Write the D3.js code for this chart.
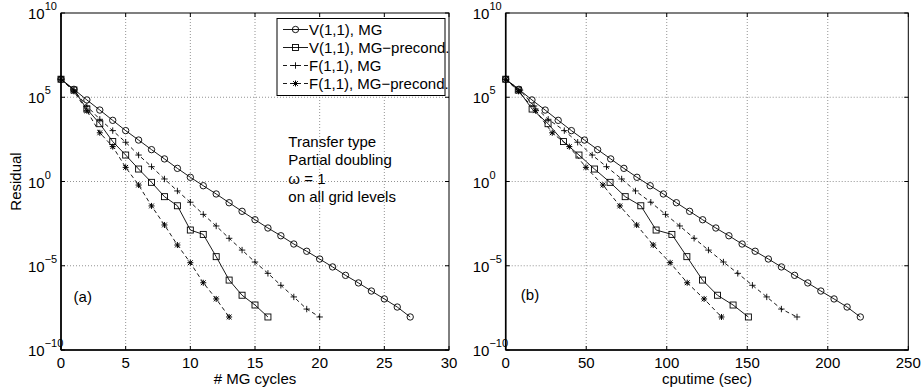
<!DOCTYPE html>
<html>
<head>
<meta charset="utf-8">
<script src="https://cdn.jsdelivr.net/npm/d3@7"></script>
<style>
body { margin: 0; background: #fff; }
text { font-family: "Liberation Sans Narrow", "Liberation Sans", Arial, sans-serif; fill: #000; }
</style>
</head>
<body>
<script>
// iterations and log10(residual)

const itVMG = [0, 1, 2, 3, 4, 5, 6, 7, 8, 9, 10, 11, 12, 13, 14, 15, 16, 17, 18, 19, 20, 21, 22, 23, 24, 25, 26, 27];
const resVMG = [6.07, 5.47, 4.84, 4.24, 3.63, 3.02, 2.46, 1.89, 1.34, 0.78, 0.25, -0.25, -0.74, -1.26, -1.77, -2.27, -2.76, -3.22, -3.71, -4.14, -4.60, -5.07, -5.57, -6.02, -6.50, -6.97, -7.45, -8.04];
const cpuVMG = [0, 8.2, 16.3, 24.5, 32.6, 40.8, 48.9, 57.1, 65.2, 73.4, 81.5, 89.7, 97.9, 106.0, 114.2, 122.3, 130.5, 138.6, 146.8, 154.9, 163.1, 171.2, 179.4, 187.6, 195.7, 203.9, 212.0, 220.2];

const itVPre = [0, 1, 2, 3, 4, 5, 6, 7, 8, 9, 10, 11, 12, 13, 14, 15, 16];
const resVPre = [6.07, 5.43, 4.30, 3.43, 2.37, 1.57, 0.74, -0.05, -0.90, -1.44, -2.88, -3.14, -4.46, -5.85, -6.75, -7.33, -8.04];
const cpuVPre = [0, 7.8, 16.4, 26.3, 35.9, 45.5, 55.1, 64.8, 74.2, 83.9, 93.4, 103.2, 112.5, 122.2, 131.5, 141.2, 150.7];

const itFMG = [0, 1, 2, 3, 4, 5, 6, 7, 8, 9, 10, 11, 12, 13, 14, 15, 16, 17, 18, 19, 20];
const resFMG = [6.07, 5.42, 4.48, 3.69, 3.02, 2.33, 1.57, 0.88, 0.15, -0.56, -1.23, -1.95, -2.64, -3.37, -4.07, -4.78, -5.45, -6.16, -6.85, -7.57, -8.04];
const cpuFMG = [0, 8.9, 17.6, 26.4, 36.4, 44.7, 53.7, 62.6, 72.0, 80.6, 90.1, 99.2, 108.1, 117.0, 125.9, 135.2, 144.1, 153.2, 162.1, 171.2, 180.9];

const itFPre = [0, 1, 2, 3, 4, 5, 6, 7, 8, 9, 10, 11, 12, 13];
const resFPre = [6.07, 5.35, 4.20, 2.89, 2.07, 0.84, -0.21, -1.45, -2.58, -3.77, -4.82, -6.01, -6.97, -8.04];
const cpuFPre = [0, 7.9, 18.6, 28.9, 39.5, 49.8, 60.4, 70.9, 81.3, 91.6, 102.1, 112.7, 123.2, 134.0];

const seriesNames = ["V(1,1), MG", "V(1,1), MG\u2212precond.", "F(1,1), MG", "F(1,1), MG\u2212precond."];
const yTickExp = [-10, -5, 0, 5, 10];
const xTicksA = [0, 5, 10, 15, 20, 25, 30];
const xTicksB = [0, 50, 100, 150, 200, 250];
const noteLines = ["Transfer type", "Partial doubling", "\u03c9 = 1", "on all grid levels"];

// figure setup

const W = 922, H = 389;
const yTop = 13, yBot = 350;

const svg = d3.select("body").append("svg")
  .attr("width", W)
  .attr("height", H);

const y = d3.scaleLog().domain([1e-10, 1e10]).range([yBot, yTop]);

const styles = [
  { marker: "circle", dash: null },
  { marker: "square", dash: null },
  { marker: "plus", dash: "4,3" },
  { marker: "star", dash: "4,3" }
];

function drawMarker(g, type, px, py) {
  if (type === "circle") {
    g.append("circle").attr("cx", px).attr("cy", py).attr("r", 3.2)
      .attr("fill", "none").attr("stroke", "#000").attr("stroke-width", 0.9);
  } else if (type === "square") {
    g.append("rect").attr("x", px - 3).attr("y", py - 3).attr("width", 6).attr("height", 6)
      .attr("fill", "none").attr("stroke", "#000").attr("stroke-width", 0.9);
  } else if (type === "plus") {
    g.append("path").attr("d", `M${px - 3.2},${py}H${px + 3.2}M${px},${py - 3.2}V${py + 3.2}`)
      .attr("stroke", "#000").attr("stroke-width", 0.9);
  } else {
    const a = 2.4;
    g.append("path")
      .attr("d", `M${px - 3},${py}H${px + 3}M${px},${py - 3}V${py + 3}M${px - a},${py - a}L${px + a},${py + a}M${px - a},${py + a}L${px + a},${py - a}`)
      .attr("stroke", "#000").attr("stroke-width", 1);
  }
}

function drawPanel(p) {
  const x = d3.scaleLinear().domain(p.xDomain).range([p.left, p.right]);
  const g = svg.append("g");

  // grid
  g.selectAll(".gx").data(p.xTicks.slice(1, -1)).enter().append("line")
    .attr("x1", d => x(d)).attr("x2", d => x(d))
    .attr("y1", yTop).attr("y2", yBot)
    .attr("stroke", "#777").attr("stroke-width", 0.8).attr("stroke-dasharray", "1,2");
  g.selectAll(".gy").data(yTickExp.slice(1, -1)).enter().append("line")
    .attr("x1", p.left).attr("x2", p.right)
    .attr("y1", d => y(Math.pow(10, d))).attr("y2", d => y(Math.pow(10, d)))
    .attr("stroke", "#777").attr("stroke-width", 0.8).attr("stroke-dasharray", "1,2");

  // series
  p.series.forEach((s, k) => {
    const pts = s.xs.map((v, i) => [x(v), y(Math.pow(10, s.res[i]))]);
    g.append("path")
      .attr("d", d3.line()(pts))
      .attr("fill", "none").attr("stroke", "#000").attr("stroke-width", 0.9)
      .attr("stroke-dasharray", styles[k].dash);
    pts.forEach(pt => drawMarker(g, styles[k].marker, pt[0], pt[1]));
  });

  // box and inward ticks
  g.append("rect")
    .attr("x", p.left).attr("y", yTop)
    .attr("width", p.right - p.left).attr("height", yBot - yTop)
    .attr("fill", "none").attr("stroke", "#000").attr("stroke-width", 1);
  g.append("line").attr("x1", p.left).attr("x2", p.left).attr("y1", yTop).attr("y2", yBot)
    .attr("stroke", "#000").attr("stroke-width", 1.6);
  g.append("line").attr("x1", p.left).attr("x2", p.right).attr("y1", yBot).attr("y2", yBot)
    .attr("stroke", "#000").attr("stroke-width", 1.6);

  p.xTicks.forEach(d => {
    g.append("line").attr("x1", x(d)).attr("x2", x(d)).attr("y1", yBot).attr("y2", yBot - 4)
      .attr("stroke", "#000");
    g.append("line").attr("x1", x(d)).attr("x2", x(d)).attr("y1", yTop).attr("y2", yTop + 4)
      .attr("stroke", "#000");
    g.append("text").attr("x", x(d)).attr("y", yBot + 18)
      .attr("text-anchor", "middle").style("font-size", "15px").text(d);
  });
  yTickExp.forEach(e => {
    const yy = y(Math.pow(10, e));
    g.append("line").attr("x1", p.left).attr("x2", p.left + 4).attr("y1", yy).attr("y2", yy)
      .attr("stroke", "#000");
    g.append("line").attr("x1", p.right).attr("x2", p.right - 4).attr("y1", yy).attr("y2", yy)
      .attr("stroke", "#000");
    const t = g.append("text").attr("x", p.left - 33).attr("y", yy + 6)
      .style("font-size", "15px");
    t.append("tspan").text("10");
    t.append("tspan").attr("dy", -9).style("font-size", "11px")
      .text(e < 0 ? "\u2212" + Math.abs(e) : e);
  });

  // axis labels
  g.append("text").attr("x", (p.left + p.right) / 2).attr("y", yBot + 34)
    .attr("text-anchor", "middle").style("font-size", "15px").text(p.xLabel);
  if (p.yLabel) {
    g.append("text")
      .attr("transform", `translate(21,${(yTop + yBot) / 2}) rotate(-90)`)
      .attr("text-anchor", "middle").style("font-size", "15px").text(p.yLabel);
  }

  g.append("text").attr("x", x(p.tag[1])).attr("y", y(Math.pow(10, p.tag[2])) + 5)
    .attr("text-anchor", "middle").style("font-size", "15px").text(p.tag[0]);

  return { g, x };
}

const pa = drawPanel({
  left: 61, right: 449, xDomain: [0, 30], xTicks: xTicksA,
  xLabel: "# MG cycles", yLabel: "Residual", tag: ["(a)", 1.68, -6.85],
  series: [
    { xs: itVMG, res: resVMG },
    { xs: itVPre, res: resVPre },
    { xs: itFMG, res: resFMG },
    { xs: itFPre, res: resFPre }
  ]
});

drawPanel({
  left: 505.7, right: 908.3, xDomain: [0, 250], xTicks: xTicksB,
  xLabel: "cputime (sec)", yLabel: null, tag: ["(b)", 15.1, -6.72],
  series: [
    { xs: cpuVMG, res: resVMG },
    { xs: cpuVPre, res: resVPre },
    { xs: cpuFMG, res: resFMG },
    { xs: cpuFPre, res: resFPre }
  ]
});

// note text in panel (a)
const note = pa.g.append("text").style("font-size", "15px");
noteLines.forEach((s, i) => {
  note.append("tspan").attr("x", pa.x(17.58)).attr("y", y(Math.pow(10, 2.05)) + i * 18.4).text(s);
});

// legend in panel (a)
const lg = pa.g.append("g").attr("transform", "translate(277,18.5)");
lg.append("rect").attr("width", 168).attr("height", 77)
  .attr("fill", "#fff").attr("stroke", "#000").attr("stroke-width", 1);
seriesNames.forEach((name, i) => {
  const ly = 11 + i * 18;
  lg.append("line").attr("x1", 6).attr("x2", 31).attr("y1", ly).attr("y2", ly)
    .attr("stroke", "#000").attr("stroke-width", 0.9)
    .attr("stroke-dasharray", styles[i].dash);
  drawMarker(lg, styles[i].marker, 18.5, ly);
  lg.append("text").attr("x", 32).attr("y", ly + 5.5)
    .style("font-size", "15px").text(name);
});
</script>
</body>
</html>
